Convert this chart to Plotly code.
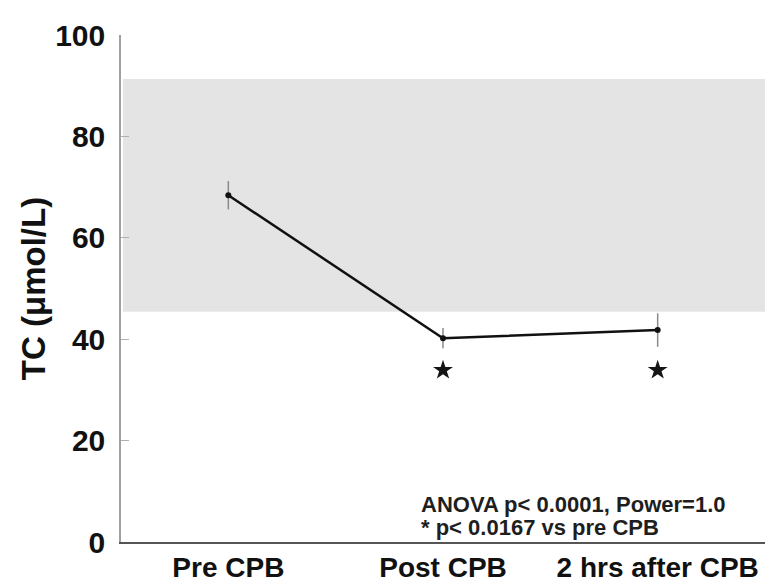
import plotly.graph_objects as go

categories = ["Pre CPB", "Post CPB", "2 hrs after CPB"]
x_pos = [1, 2, 3]
tc_mean = [68.4, 40.2, 41.8]
tc_err = [2.8, 2.0, 3.3]
sig_x = [2, 3]
sig_y = [33.9, 33.9]
normal_low, normal_high = 45.4, 91.3
y_ticks = [0, 20, 40, 60, 80, 100]
note_lines = ["ANOVA p< 0.0001, Power=1.0", "* p< 0.0167 vs pre CPB"]

FONT = "Liberation Sans, Arial, sans-serif"

fig = go.Figure()

fig.add_shape(type="rect", xref="paper", yref="y", x0=0.003, x1=1, y0=normal_low, y1=normal_high,
              fillcolor="#e4e4e4", line=dict(width=0), layer="below")

fig.add_trace(go.Scatter(
    x=x_pos, y=tc_mean, mode="lines+markers",
    line=dict(color="#111111", width=2.5),
    marker=dict(color="#111111", size=6),
    error_y=dict(type="data", array=tc_err, color="#8a8a8a", thickness=1.5, width=0),
    showlegend=False, hoverinfo="skip"))

fig.add_trace(go.Scatter(
    x=sig_x, y=sig_y, mode="markers",
    marker=dict(symbol="star", size=15, color="#151515", line=dict(width=0)),
    showlegend=False, hoverinfo="skip"))

note_html = "<br>".join('<span style="font-size:22px"><b>%s</b></span>' % t for t in note_lines)
fig.add_annotation(xref="paper", yref="paper", x=0.463, y=0.052, xanchor="left", yanchor="middle",
                   text=note_html, showarrow=False, align="left",
                   font=dict(family=FONT, size=18, color="#1e1e1e"))

fig.update_layout(
    width=773, height=586,
    margin=dict(l=113, r=16, t=27, b=52, autoexpand=False),
    paper_bgcolor="white", plot_bgcolor="white",
    font=dict(family=FONT, color="#111111"),
    xaxis=dict(range=[0.5, 3.5], tickvals=x_pos, ticktext=["<b>%s</b>" % c for c in categories],
               tickfont=dict(size=28), showgrid=False, zeroline=False, automargin=False,
               showline=True, linecolor="#555555", linewidth=1.5, ticks="",
               ticklabelstandoff=0),
    yaxis=dict(range=[0, 100], tickvals=y_ticks, ticktext=["<b>%d</b>" % t for t in y_ticks],
               tickfont=dict(size=30), showgrid=False, zeroline=False, automargin=False,
               showline=True, linecolor="#a0a0a0", linewidth=1.5,
               ticks="inside", ticklen=8, tickcolor="#b0b0b0", ticklabelstandoff=8,
               title=dict(text="<b>TC (\u03bcmol/L)</b>", font=dict(size=33), standoff=0)),
)

fig.write_html("out.html")
